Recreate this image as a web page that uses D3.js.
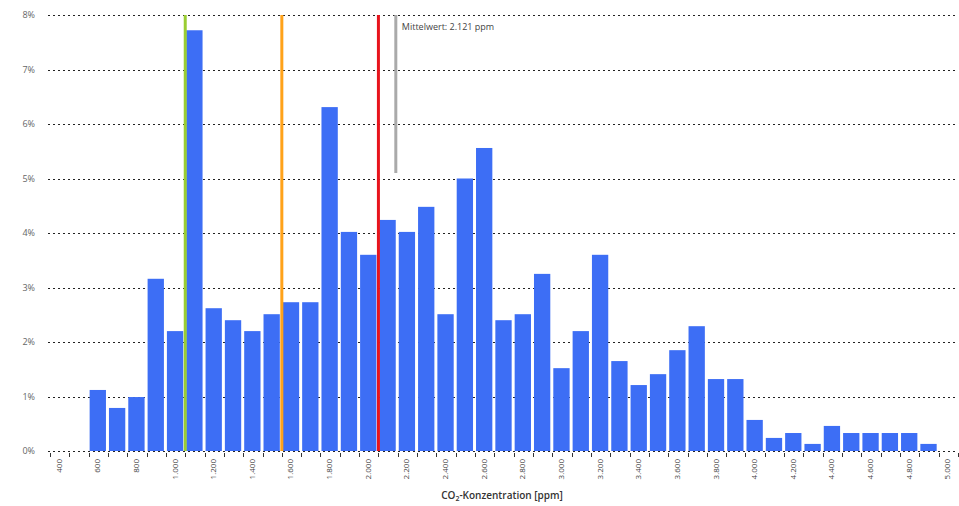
<!DOCTYPE html>
<html>
<head>
<meta charset="utf-8">
<script src="https://cdn.jsdelivr.net/npm/d3@7"></script>
<style>
body { margin: 0; background: #fff; font-family: "Open Sans", "DejaVu Sans", sans-serif; }
</style>
</head>
<body>
<script>
var width = 959, height = 506;

// upper edge of each 100 ppm class
var binEdges = [400, 500, 600, 700, 800, 900, 1000, 1100, 1200, 1300, 1400, 1500,
    1600, 1700, 1800, 1900, 2000, 2100, 2200, 2300, 2400, 2500, 2600, 2700, 2800,
    2900, 3000, 3100, 3200, 3300, 3400, 3500, 3600, 3700, 3800, 3900, 4000, 4100,
    4200, 4300, 4400, 4500, 4600, 4700, 4800, 4900, 5000];
// share of time in percent
var shares = [0, 0, 1.12, 0.79, 0.99, 3.16, 2.2, 7.72, 2.62, 2.4, 2.2, 2.51,
    2.73, 2.73, 6.31, 4.02, 3.6, 4.24, 4.02, 4.48, 2.51, 5.0, 5.56, 2.4, 2.51,
    3.25, 1.52, 2.2, 3.6, 1.65, 1.21, 1.41, 1.85, 2.29, 1.32, 1.32, 0.57, 0.24,
    0.33, 0.13, 0.46, 0.33, 0.33, 0.33, 0.33, 0.13, 0];
var yTicks = [0, 1, 2, 3, 4, 5, 6, 7, 8];
var limits = [{value: 1000, color: "#9acd32"}, {value: 1500, color: "#ffa21a"}, {value: 2000, color: "#e8141c"}];
var meanValue = 2090;
var meanLabel = "Mittelwert: 2.121 ppm";

var plotLeft = 50, plotRight = 958, plotTop = 15, plotBottom = 451;

var x = d3.scaleLinear().domain([300, 5000]).range([plotLeft, plotRight]);
var y = d3.scaleLinear().domain([0, 8]).range([plotBottom, plotTop]);
var fmt = d3.formatLocale({decimal: ",", thousands: ".", grouping: [3], currency: ["", "€"]}).format(",d");

var svg = d3.select("body")
.append("svg")
.attr("width", width)
.attr("height", height)
.attr("id","svg");

// grid
svg.selectAll(".grid")
.data(yTicks)
.enter().append("line")
.attr("class","grid")
.attr("x1", plotLeft - 2)
.attr("x2", plotRight - 2)
.attr("y1", function(d){ return Math.round(y(d)) + 0.5; })
.attr("y2", function(d){ return Math.round(y(d)) + 0.5; })
.attr("stroke","#222")
.attr("stroke-dasharray","2,3");

svg.selectAll(".ylab")
.data(yTicks)
.enter().append("text")
.attr("class","ylab")
.attr("x", 35)
.attr("y", function(d){ return y(d) + 3; })
.attr("text-anchor","end")
.attr("font-size", 9)
.attr("fill","#666")
.text(function(d){ return d + "%"; });

// bars
svg.selectAll(".bar")
.data(shares)
.enter().append("rect")
.attr("class","bar")
.attr("x", function(d, i){ return x(binEdges[i] - 100) + 1; })
.attr("y", function(d){ return y(d); })
.attr("width", function(d, i){ return x(binEdges[i]) - x(binEdges[i] - 100) - 3; })
.attr("height", function(d){ return plotBottom - y(d); })
.attr("fill","#3d6ef5");

// x ticks on class borders
svg.selectAll(".xtick")
.data([300].concat(binEdges))
.enter().append("line")
.attr("class","xtick")
.attr("x1", function(d){ return Math.round(x(d)) + 0.5; })
.attr("x2", function(d){ return Math.round(x(d)) + 0.5; })
.attr("y1", plotBottom + 2)
.attr("y2", plotBottom + 6)
.attr("stroke","#333");

svg.selectAll(".xlab")
.data(binEdges.filter(function(d, i){ return i % 2 == 0; }))
.enter().append("text")
.attr("class","xlab")
.attr("transform", function(d){
    return "translate(" + (x(d - 50) + 2) + "," + (plotBottom + 8) + ") rotate(-90)";
})
.attr("text-anchor","end")
.attr("font-size", 8)
.attr("fill","#444")
.text(function(d){ return fmt(d); });

// limit lines
svg.selectAll(".limit")
.data(limits)
.enter().append("line")
.attr("class","limit")
.attr("x1", function(d){ return x(d.value); })
.attr("x2", function(d){ return x(d.value); })
.attr("y1", plotTop)
.attr("y2", plotBottom)
.attr("stroke", function(d){ return d.color; })
.attr("stroke-width", 3);

// mean
svg.append("line")
.attr("x1", x(meanValue))
.attr("x2", x(meanValue))
.attr("y1", plotTop)
.attr("y2", 173)
.attr("stroke","#aaa")
.attr("stroke-width", 3);

svg.append("text")
.attr("x", x(meanValue) + 6)
.attr("y", 30)
.attr("font-size", 9)
.attr("fill","#444")
.text(meanLabel);

// axis title
var title = svg.append("text")
.attr("x", 502)
.attr("y", 499)
.attr("text-anchor","middle")
.attr("font-size", 10)
.attr("font-weight","600")
.attr("fill","#333");
title.append("tspan").text("CO");
title.append("tspan").attr("font-size", 7).attr("dy", 2).text("2");
title.append("tspan").attr("dy", -2).text("-Konzentration [ppm]");
</script>
</body>
</html>
